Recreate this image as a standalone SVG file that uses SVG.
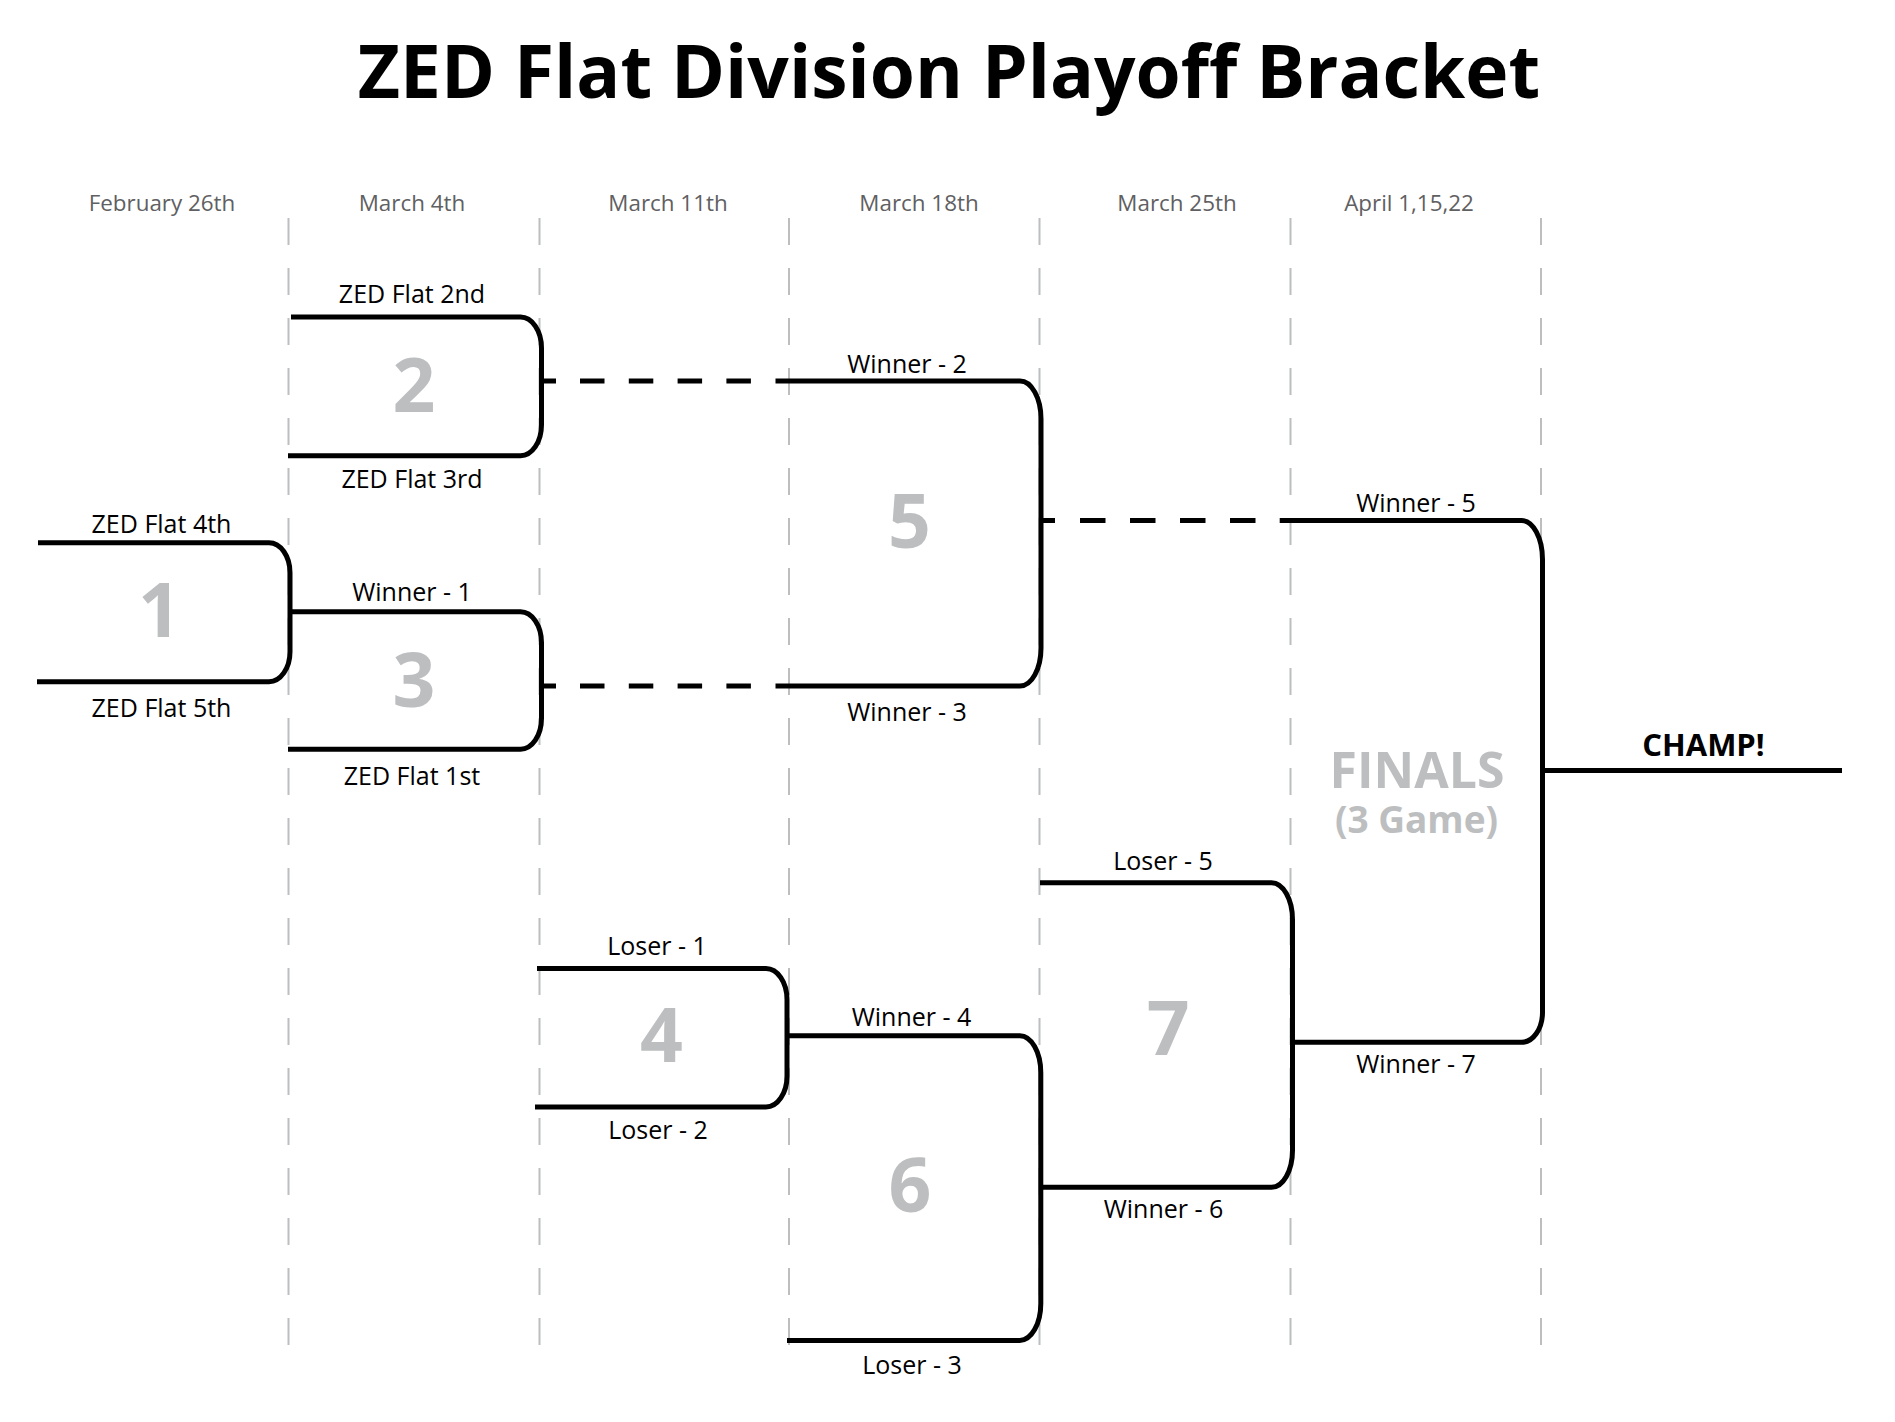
<svg xmlns="http://www.w3.org/2000/svg" width="1895" height="1422" viewBox="0 0 1895 1422">
<style>
.title{font-family:"Open Sans","Liberation Sans",sans-serif;font-weight:700;font-size:73px;fill:#000;text-anchor:middle}
.date{font-family:"Open Sans","Liberation Sans",sans-serif;font-size:22.4px;fill:#5f6062;text-anchor:middle}
.lbl{font-family:"Open Sans","Liberation Sans",sans-serif;font-size:25px;fill:#000;text-anchor:middle}
.num{font-family:"Open Sans","Liberation Sans",sans-serif;font-weight:700;font-size:75px;fill:#bcbec0;text-anchor:middle}
.fin{font-family:"Open Sans","Liberation Sans",sans-serif;font-weight:700;fill:#bcbec0;text-anchor:middle}
.champ{font-family:"Open Sans","Liberation Sans",sans-serif;font-weight:700;font-size:31px;fill:#000;text-anchor:middle}
.br{fill:none;stroke:#000;stroke-width:5}
.dash{fill:none;stroke:#000;stroke-width:5}
.col{stroke:#bcbec0;stroke-width:2;stroke-dasharray:27 23}
</style>
<rect width="1895" height="1422" fill="#fff"/>
<text class="title" x="949" y="98">ZED Flat Division Playoff Bracket</text>
<g id="columns">
<line class="col" x1="288.5" y1="218" x2="288.5" y2="1345"/>
<line class="col" x1="539.5" y1="218" x2="539.5" y2="1345"/>
<line class="col" x1="789" y1="218" x2="789" y2="1345"/>
<line class="col" x1="1039.5" y1="218" x2="1039.5" y2="1345"/>
<line class="col" x1="1290.5" y1="218" x2="1290.5" y2="1345"/>
<line class="col" x1="1541" y1="218" x2="1541" y2="1345"/>
</g>
<g id="dates">
<text class="date" x="162" y="211">February 26th</text>
<text class="date" x="412" y="211">March 4th</text>
<text class="date" x="668" y="211">March 11th</text>
<text class="date" x="919" y="211">March 18th</text>
<text class="date" x="1177" y="211">March 25th</text>
<text class="date" x="1409" y="211">April 1,15,22</text>
</g>
<g id="connectors">
<line class="dash" x1="541.5" y1="381" x2="556" y2="381"/>
<line class="dash" x1="580" y1="381" x2="751" y2="381" stroke-dasharray="24.5 24.3"/>
<line class="dash" x1="541.5" y1="686" x2="556" y2="686"/>
<line class="dash" x1="580" y1="686" x2="751" y2="686" stroke-dasharray="24.5 24.3"/>
<line class="dash" x1="1041" y1="520.5" x2="1055" y2="520.5"/>
<line class="dash" x1="1080" y1="520.5" x2="1256" y2="520.5" stroke-dasharray="25.5 24.5"/>
<line class="dash" x1="1542.5" y1="770.5" x2="1842" y2="770.5"/>
</g>
<g id="match1">
<path class="br" d="M38,542.7 H269 A21 30 0 0 1 290,572.7 V651.7 A21 30 0 0 1 269,681.7 H37"/>
<text class="num" x="159.5" y="636.7">1</text>
<text class="lbl" x="161.5" y="532.7">ZED Flat 4th</text>
<text class="lbl" x="161.5" y="716.7">ZED Flat 5th</text>
</g>
<g id="match2">
<path class="br" d="M291,317 H520.5 A21 31 0 0 1 541.5,348 V424.7 A21 31 0 0 1 520.5,455.7 H288"/>
<text class="num" x="414" y="411.7">2</text>
<text class="lbl" x="412" y="303.3">ZED Flat 2nd</text>
<text class="lbl" x="412" y="488.3">ZED Flat 3rd</text>
</g>
<g id="match3">
<path class="br" d="M290,611.7 H520.5 A21 31 0 0 1 541.5,642.7 V718.3 A21 31 0 0 1 520.5,749.3 H288"/>
<text class="num" x="414" y="706.7">3</text>
<text class="lbl" x="412" y="600.7">Winner - 1</text>
<text class="lbl" x="412" y="785">ZED Flat 1st</text>
</g>
<g id="match4">
<path class="br" d="M537,968.6 H766 A21 31 0 0 1 787,999.6 V1076 A21 31 0 0 1 766,1107 H535"/>
<text class="num" x="661.5" y="1061.8">4</text>
<text class="lbl" x="657" y="954.6">Loser - 1</text>
<text class="lbl" x="658" y="1138.6">Loser - 2</text>
</g>
<g id="match5">
<path class="br" d="M775.5,381 H1020 A21 38 0 0 1 1041,419 V648 A21 38 0 0 1 1020,686 H775.5"/>
<text class="num" x="909.5" y="548.3">5</text>
<text class="lbl" x="907" y="373.3">Winner - 2</text>
<text class="lbl" x="907" y="720.7">Winner - 3</text>
</g>
<g id="match6">
<path class="br" d="M787,1035.7 H1019.8 A21 37 0 0 1 1040.8,1072.7 V1303.4 A21 37 0 0 1 1019.8,1340.4 H787"/>
<text class="num" x="910" y="1211.8">6</text>
<text class="lbl" x="911.5" y="1026.4">Winner - 4</text>
<text class="lbl" x="912" y="1374.3">Loser - 3</text>
</g>
<g id="match7">
<path class="br" d="M1040,882.7 H1271.5 A21 37 0 0 1 1292.5,919.7 V1150.3 A21 37 0 0 1 1271.5,1187.3 H1040.8"/>
<text class="num" x="1168.3" y="1055">7</text>
<text class="lbl" x="1163" y="870">Loser - 5</text>
<text class="lbl" x="1163.5" y="1218">Winner - 6</text>
</g>
<g id="finals">
<path class="br" d="M1279.7,520.5 H1521.5 A21 39 0 0 1 1542.5,559.5 V1012.3 A21 30 0 0 1 1521.5,1042.3 H1292.5"/>
<text class="fin" x="1417" y="788" font-size="50">FINALS</text>
<text class="fin" x="1416.5" y="833.3" font-size="37">(3 Game)</text>
<text class="lbl" x="1416" y="511.7">Winner - 5</text>
<text class="lbl" x="1416" y="1073">Winner - 7</text>
</g>
<g id="champion">
<text class="champ" x="1703.5" y="755.6">CHAMP!</text>
</g>
</svg>
